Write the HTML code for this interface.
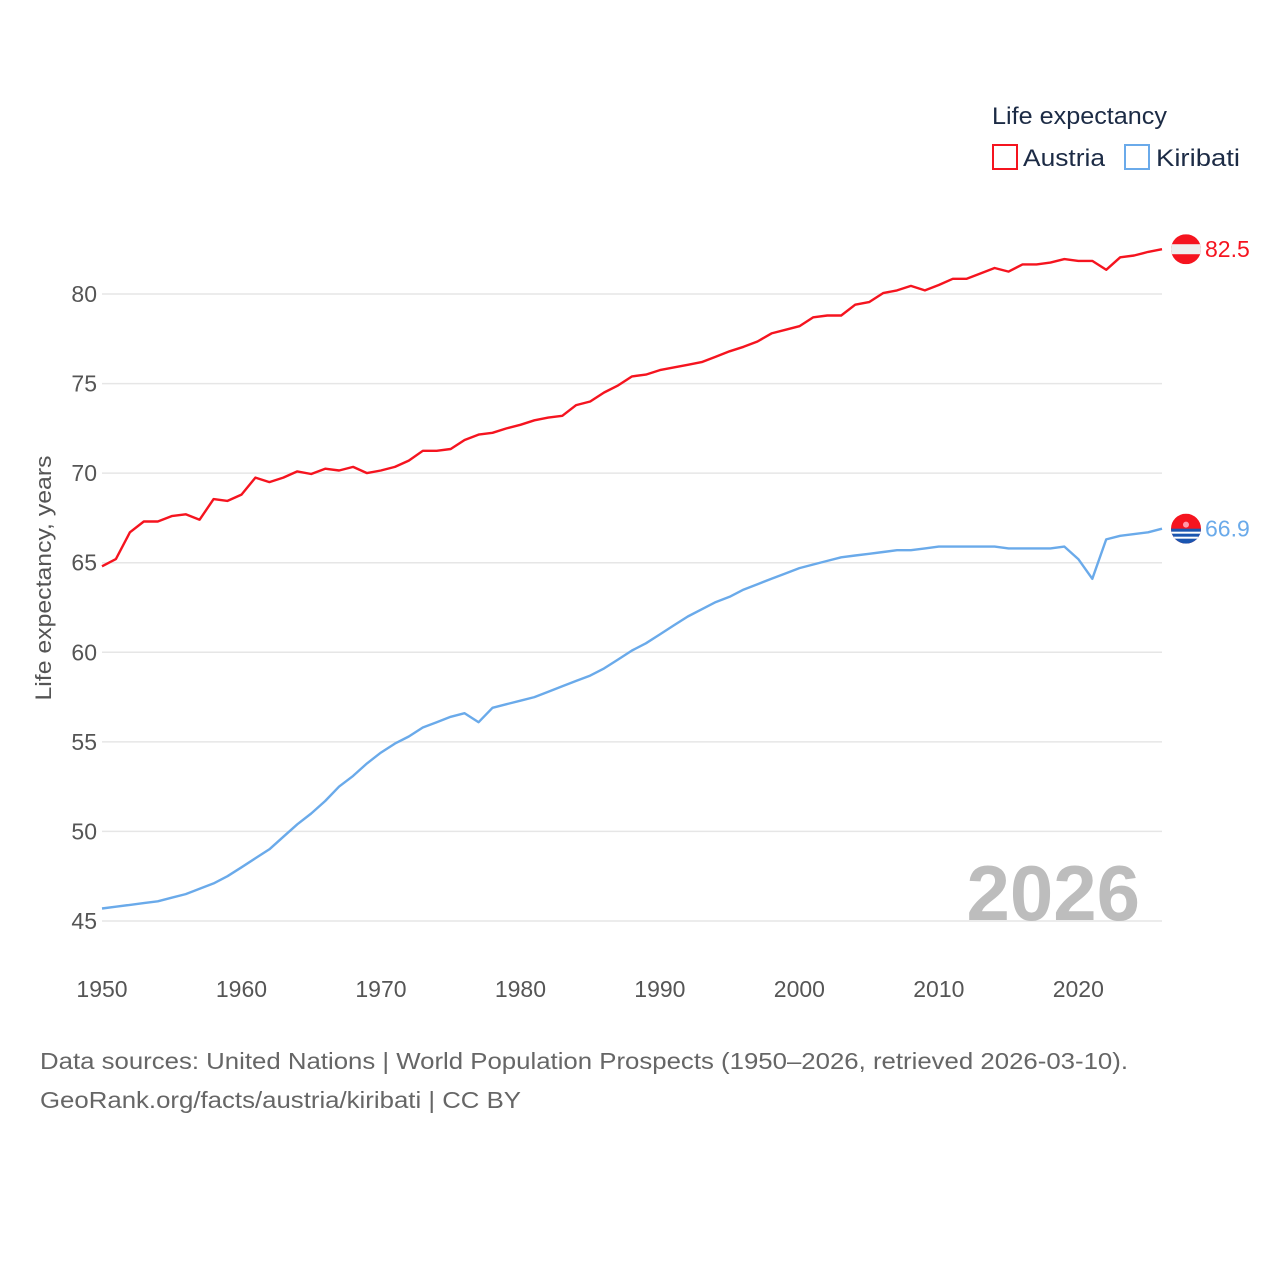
<!DOCTYPE html>
<html><head><meta charset="utf-8"><style>
html,body{margin:0;padding:0;background:#fff;}
body{width:1280px;height:1280px;overflow:hidden;font-family:"Liberation Sans",sans-serif;}
</style></head><body>
<svg id="chart" width="1280" height="1280" xmlns="http://www.w3.org/2000/svg" font-family="Liberation Sans, sans-serif">
<g id="grid"></g>
<g id="yticks"></g>
<g id="xticks"></g>
<text transform="translate(51,578) rotate(-90)" text-anchor="middle" font-size="22" fill="#555" textLength="245" lengthAdjust="spacingAndGlyphs">Life expectancy, years</text>
<text x="1140" y="920" text-anchor="end" font-size="78" font-weight="bold" fill="#bdbdbd">2026</text>
<g id="series"></g>
<g>
<text x="992" y="124" font-size="24" fill="#1c2b45" textLength="175" lengthAdjust="spacingAndGlyphs">Life expectancy</text>
<rect x="993" y="145" width="24" height="24" fill="none" stroke="#f5141f" stroke-width="2"/>
<text x="1023" y="166" font-size="24" fill="#1c2b45" textLength="82" lengthAdjust="spacingAndGlyphs">Austria</text>
<rect x="1125" y="145" width="24" height="24" fill="none" stroke="#6aaaea" stroke-width="2"/>
<text x="1156" y="166" font-size="24" fill="#1c2b45" textLength="84" lengthAdjust="spacingAndGlyphs">Kiribati</text>
</g>
<g id="flags"></g>
<text x="40" y="1069" font-size="23" fill="#666" textLength="1088" lengthAdjust="spacingAndGlyphs">Data sources: United Nations | World Population Prospects (1950–2026, retrieved 2026-03-10).</text>
<text x="40" y="1108" font-size="23" fill="#666" textLength="481" lengthAdjust="spacingAndGlyphs">GeoRank.org/facts/austria/kiribati | CC BY</text>
</svg>
<script>
const years = [];
for (let y = 1950; y <= 2026; y++) years.push(y);
const austria = [64.8,65.2,66.7,67.3,67.3,67.6,67.7,67.4,68.55,68.45,68.8,69.75,69.5,69.75,70.1,69.95,70.25,70.15,70.35,70.0,70.15,70.35,70.7,71.25,71.25,71.35,71.85,72.15,72.25,72.5,72.7,72.95,73.1,73.2,73.8,74.0,74.5,74.9,75.4,75.5,75.75,75.9,76.05,76.2,76.5,76.8,77.05,77.35,77.8,78.0,78.2,78.7,78.8,78.8,79.4,79.55,80.05,80.2,80.45,80.2,80.5,80.85,80.85,81.15,81.45,81.25,81.65,81.65,81.75,81.95,81.85,81.85,81.35,82.05,82.15,82.35,82.5];
const kiribati = [45.7,45.8,45.9,46.0,46.1,46.3,46.5,46.8,47.1,47.5,48.0,48.5,49.0,49.7,50.4,51.0,51.7,52.5,53.1,53.8,54.4,54.9,55.3,55.8,56.1,56.4,56.6,56.1,56.9,57.1,57.3,57.5,57.8,58.1,58.4,58.7,59.1,59.6,60.1,60.5,61.0,61.5,62.0,62.4,62.8,63.1,63.5,63.8,64.1,64.4,64.7,64.9,65.1,65.3,65.4,65.5,65.6,65.7,65.7,65.8,65.9,65.9,65.9,65.9,65.9,65.8,65.8,65.8,65.8,65.9,65.2,64.1,66.3,66.5,66.6,66.7,66.9];
const yTicks = [45,50,55,60,65,70,75,80];
const xTicks = [1950,1960,1970,1980,1990,2000,2010,2020];
const endLabels = ["82.5","66.9"];

const NS = "http://www.w3.org/2000/svg";
const X0 = 102, X1 = 1162, Y45 = 921, Y80 = 294;
const xs = y => X0 + (y - 1950) * (X1 - X0) / (2026 - 1950);
const ys = v => Y45 + (v - 45) * (Y80 - Y45) / (80 - 45);
function mk(tag, attrs, parent) {
  const e = document.createElementNS(NS, tag);
  for (const k in attrs) e.setAttribute(k, attrs[k]);
  parent.appendChild(e);
  return e;
}
const grid = document.getElementById('grid'), yt = document.getElementById('yticks'), xt = document.getElementById('xticks');
yTicks.forEach(v => {
  const l = mk('line', {x1: X0, x2: X1, y1: ys(v), y2: ys(v), stroke: '#e6e6e6', 'stroke-width': 1.5}, grid);
  
  
  const t = mk('text', {x: 97, y: ys(v) + 8, 'text-anchor': 'end', 'font-size': 23, fill: '#555'}, yt);
  t.textContent = v;
  
  
});
xTicks.forEach(v => {
  const t = mk('text', {x: xs(v), y: 997, 'text-anchor': 'middle', 'font-size': 23, fill: '#555'}, xt);
  t.textContent = v;
  
  
});
const ser = document.getElementById('series');
function line(data, color, name) {
  const d = data.map((v, i) => (i ? 'L' : 'M') + xs(years[i]).toFixed(1) + ',' + ys(v).toFixed(1)).join(' ');
  const p = mk('path', {d: d, fill: 'none', stroke: color, 'stroke-width': 2.4, 'stroke-linejoin': 'round'}, ser);
  
  
}
line(austria, '#f5141f', 'austria-line');
line(kiribati, '#6aaaea', 'kiribati-line');

const fl = document.getElementById('flags');
const defs = mk('defs', {}, fl);
const ay = ys(austria[austria.length - 1]), ky = ys(kiribati[kiribati.length - 1]);
const fx = 1186;
const ca = mk('clipPath', {id: 'ca'}, defs); mk('circle', {cx: fx, cy: ay, r: 15}, ca);
const ck = mk('clipPath', {id: 'ck'}, defs); mk('circle', {cx: fx, cy: ky, r: 15}, ck);
const ga = mk('g', {'clip-path': 'url(#ca)'}, fl);


mk('rect', {x: fx - 15, y: ay - 15, width: 30, height: 30, fill: '#f5141f'}, ga);
mk('rect', {x: fx - 15, y: ay - 5, width: 30, height: 10, fill: '#eee'}, ga);
const gk = mk('g', {'clip-path': 'url(#ck)'}, fl);


mk('rect', {x: fx - 15, y: ky - 15, width: 30, height: 30, fill: '#f5141f'}, gk);
mk('rect', {x: fx - 15, y: ky, width: 30, height: 15, fill: '#1a55b0'}, gk);
mk('rect', {x: fx - 15, y: ky + 3, width: 30, height: 2, fill: '#fff'}, gk);
mk('rect', {x: fx - 15, y: ky + 8, width: 30, height: 2, fill: '#fff'}, gk);
mk('circle', {cx: fx, cy: ky - 4, r: 3, fill: '#f9a'}, gk);
const la = mk('text', {x: 1205, y: ay + 8, 'font-size': 23, fill: '#f5141f'}, fl);
la.textContent = endLabels[0];


const lk = mk('text', {x: 1205, y: ky + 8, 'font-size': 23, fill: '#6aaaea'}, fl);
lk.textContent = endLabels[1];


</script>
</body></html>
